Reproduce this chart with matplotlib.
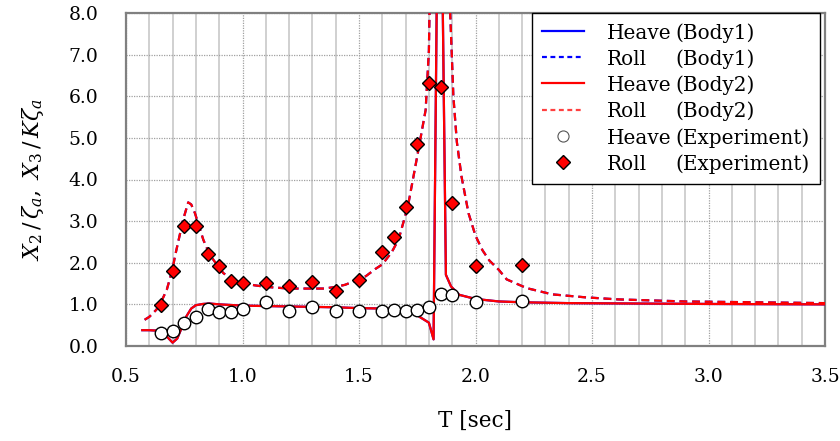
import numpy as np
import matplotlib.pyplot as plt
from matplotlib.lines import Line2D
from matplotlib.ticker import MultipleLocator

plt.rcParams['font.family'] = 'DejaVu Serif'
plt.rcParams['mathtext.fontset'] = 'dejavuserif'

# computed response (Body1 and Body2 give the same curves)
period_calc = [0.57, 0.60, 0.63, 0.66, 0.68, 0.70, 0.72, 0.74, 0.76, 0.78, 0.80, 0.83,
               0.86, 0.90, 1.00, 1.10, 1.20, 1.30, 1.40, 1.50, 1.60, 1.70, 1.74, 1.76,
               1.80, 1.82, 1.845, 1.873, 1.895, 1.93, 2.00, 2.10, 2.20, 2.40, 2.70,
               3.00, 3.50]
heave_body2 = [0.38, 0.38, 0.37, 0.30, 0.20, 0.08, 0.18, 0.45, 0.72, 0.90, 0.98, 1.01,
               1.02, 1.00, 0.97, 0.96, 0.95, 0.94, 0.93, 0.91, 0.90, 0.88, 0.82, 0.70,
               0.56, 0.16, 15.0, 1.71, 1.43, 1.23, 1.13, 1.07, 1.05, 1.03, 1.02,
               1.01, 1.00]

period_roll = [0.58, 0.60, 0.63, 0.65, 0.675, 0.70, 0.71, 0.73, 0.745, 0.767, 0.78,
               0.796, 0.815, 0.832, 0.855, 0.875, 0.90, 0.918, 0.96, 1.00, 1.05, 1.10,
               1.20, 1.30, 1.35, 1.40, 1.44, 1.50, 1.53, 1.57, 1.60, 1.64, 1.67, 1.71,
               1.75, 1.786, 1.80, 1.85, 1.89, 1.905, 1.92, 1.94, 1.97, 2.00, 2.03,
               2.06, 2.10, 2.134, 2.22, 2.33, 2.47, 2.61, 2.90, 3.20, 3.50]
roll_body2 = [0.63, 0.70, 0.87, 1.05, 1.35, 1.85, 2.15, 2.65, 3.03, 3.45, 3.40,
              3.19, 2.85, 2.55, 2.25, 2.07, 1.88, 1.75, 1.59, 1.52, 1.46, 1.42,
              1.38, 1.38, 1.38, 1.42, 1.47, 1.60, 1.68, 1.85, 1.96, 2.25, 2.56, 3.36,
              4.56, 5.67, 7.10, 25.0, 8.20, 6.00, 4.90, 4.07, 3.19, 2.65, 2.30,
              2.05, 1.83, 1.60, 1.39, 1.24, 1.17, 1.12, 1.07, 1.05, 1.03]

heave_body1 = list(heave_body2)
roll_body1 = list(roll_body2)

# tank test
period_exp = [0.65, 0.70, 0.75, 0.80, 0.85, 0.90, 0.95, 1.00, 1.10, 1.20, 1.30,
              1.40, 1.50, 1.60, 1.65, 1.70, 1.75, 1.80, 1.85, 1.90, 2.00, 2.20]
heave_exp = [0.31, 0.35, 0.55, 0.70, 0.90, 0.81, 0.82, 0.89, 1.05, 0.84, 0.93,
             0.84, 0.84, 0.84, 0.87, 0.85, 0.87, 0.93, 1.26, 1.22, 1.05, 1.09]
roll_exp = [0.98, 1.79, 2.88, 2.89, 2.21, 1.91, 1.56, 1.51, 1.52, 1.44, 1.54,
            1.31, 1.59, 2.27, 2.62, 3.33, 4.86, 6.31, 6.23, 3.44, 1.91, 1.94]

fig = plt.figure(figsize=(8.4, 4.41), dpi=100)
ax = fig.add_axes([126 / 840, 95 / 441, 699 / 840, 333 / 441])

dash = (0, (3.5, 2.2))
ax.plot(period_calc, heave_body1, color='blue', lw=1.6, zorder=3)
ax.plot(period_roll, roll_body1, color='blue', lw=1.6, ls=dash, zorder=3)
ax.plot(period_calc, heave_body2, color='red', lw=1.6, zorder=4)
ax.plot(period_roll, roll_body2, color='red', lw=1.6, ls=dash, zorder=4)
ax.plot(period_exp, heave_exp, ls='none', marker='o', ms=9.0, mfc='white',
        mec='black', mew=1.0, zorder=5)
ax.plot(period_exp, roll_exp, ls='none', marker='D', ms=7.2, mfc='red',
        mec='black', mew=1.0, zorder=6)

ax.set_xlim(0.5, 3.5)
ax.set_ylim(0, 8)
ax.xaxis.set_major_locator(MultipleLocator(0.5))
ax.xaxis.set_minor_locator(MultipleLocator(0.1))
ax.yaxis.set_major_locator(MultipleLocator(1.0))
ax.xaxis.set_major_formatter(lambda v, p: f'{v:.1f}')
ax.yaxis.set_major_formatter(lambda v, p: f'{v:.1f}')

ax.grid(which='minor', axis='x', color='#c4c4c4', lw=1.1, ls='-')
ax.grid(which='major', axis='x', color='#a0a0a0', lw=0.9, ls=(0, (1, 1)))
ax.grid(which='major', axis='y', color='#a0a0a0', lw=0.9, ls=(0, (1, 1)))
ax.set_axisbelow(True)

for s in ax.spines.values():
    s.set_color('#808080')
    s.set_linewidth(1.6)

ax.tick_params(which='both', length=0)
ax.tick_params(axis='x', labelsize=13.5, pad=16)
ax.tick_params(axis='y', labelsize=13.5, pad=20)

ax.set_xlabel('T [sec]', fontsize=15.5, labelpad=17)
ax.set_ylabel(r'$X_2\,/\,\zeta_a,\ X_3\,/\,K\zeta_a$', fontsize=16, labelpad=16)

# legend: first column holds the line samples, second column the source names
blank = Line2D([], [], ls='none')
handles = [
    Line2D([], [], color='blue', lw=1.6),
    Line2D([], [], color='blue', lw=1.6, ls=(0, (2.2, 1.6))),
    Line2D([], [], color='red', lw=1.6),
    Line2D([], [], color='#ff4040', lw=1.6, ls=(0, (2.2, 1.6))),
    Line2D([], [], ls='none', marker='o', ms=8, mfc='white', mec='#555555', mew=0.8),
    Line2D([], [], ls='none', marker='D', ms=7, mfc='red', mec='black', mew=1.0),
] + [blank] * 6
labels = ['Heave', 'Roll', 'Heave', 'Roll', 'Heave', 'Roll',
          '(Body1)', '(Body1)', '(Body2)', '(Body2)', '(Experiment)', '(Experiment)']
leg = ax.legend(handles, labels, ncol=2, loc='upper right',
                bbox_to_anchor=(0.993, 1.0), borderaxespad=0, fontsize=14.4,
                handlelength=2.1, handleheight=1.0, handletextpad=1.15,
                columnspacing=-3.05, labelspacing=0.32, borderpad=0.5,
                fancybox=False, framealpha=1)
leg.get_frame().set_edgecolor('black')
leg.get_frame().set_linewidth(1.0)
leg.set_zorder(10)

fig.savefig('out.png', dpi=100)
